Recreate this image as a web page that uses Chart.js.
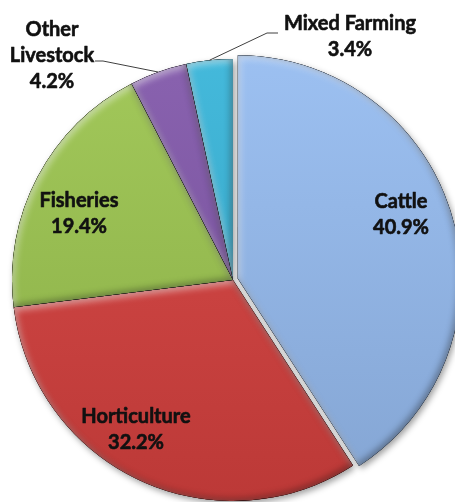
<!DOCTYPE html>
<html><head><meta charset="utf-8">
<script src="https://cdn.jsdelivr.net/npm/chart.js@4/dist/chart.umd.min.js"></script>
<style>html,body{margin:0;padding:0;background:#fff;} #wrap{width:455px;height:502px;position:relative;}</style>
</head><body><div id="wrap"><canvas id="c"></canvas></div>
<script>
const categories = ['Cattle', 'Horticulture', 'Fisheries', 'Other Livestock', 'Mixed Farming'];
const shares = [40.9, 32.2, 19.4, 4.2, 3.4];
const labelLines = [['Cattle'], ['Horticulture'], ['Fisheries'], ['Other', 'Livestock'], ['Mixed Farming']];
const colors = ['#96BCF0', '#D6413E', '#9CC54F', '#8158AA', '#38B5D9'];
const explode = [20, 0, 0, 0, 0];
// label layout, relative to pie centre
const labelPos = [[168, -65], [-97, 150], [-154, -66], [-181, -224], [117, -243]];
const leaders = [null, null, null, [[-138, -219], [-130, -219]], [[45, -247], [34, -247]]];

function shade(hex, f) {
  const n = parseInt(hex.slice(1), 16);
  const r = n >> 16, g = (n >> 8) & 255, b = n & 255;
  const adj = c => f >= 0 ? Math.round(c + (255 - c) * f) : Math.round(c * (1 + f));
  return `rgb(${adj(r)},${adj(g)},${adj(b)})`;
}
function arcGeom(arc) {
  const p = arc.getProps(['x', 'y', 'startAngle', 'endAngle', 'outerRadius', 'circumference']);
  const off = (arc.options.offset || 0) / 4;
  const half = (p.startAngle + p.endAngle) / 2;
  const fix = 1 - Math.sin(Math.min(Math.PI, p.circumference || 0));
  return {x: p.x + Math.cos(half) * off, y: p.y + Math.sin(half) * off, r: p.outerRadius + off * fix,
          s: p.startAngle, e: p.endAngle, half, cx: p.x, cy: p.y, R: p.outerRadius};
}
function pathArc(ctx, g) {
  ctx.moveTo(g.x, g.y);
  ctx.arc(g.x, g.y, g.r, g.s, g.e);
  ctx.closePath();
}

const bevel = {
  id: 'bevel',
  beforeDatasetsDraw(chart) {
    const ctx = chart.ctx, meta = chart.getDatasetMeta(0);
    ctx.save();
    ctx.shadowColor = 'rgba(0,0,0,0.38)';
    ctx.shadowBlur = 6; ctx.shadowOffsetX = 2; ctx.shadowOffsetY = 3;
    meta.data.forEach((arc, i) => {
      const g = arcGeom(arc);
      ctx.beginPath(); pathArc(ctx, g);
      ctx.fillStyle = colors[i]; ctx.fill();
    });
    ctx.restore();
  },
  afterDatasetsDraw(chart) {
    const ctx = chart.ctx, meta = chart.getDatasetMeta(0);
    meta.data.forEach((arc) => {
      const g = arcGeom(arc);
      const inner = (col, ox, oy, blur) => {
        ctx.save();
        ctx.beginPath(); pathArc(ctx, g); ctx.clip();
        ctx.beginPath();
        ctx.rect(-2000, -2000, 5000, 5000);
        pathArc(ctx, g);
        ctx.shadowColor = col; ctx.shadowBlur = blur;
        ctx.shadowOffsetX = ox; ctx.shadowOffsetY = oy;
        ctx.fillStyle = '#000';
        ctx.fill('evenodd');
        ctx.restore();
      };
      inner('rgba(255,255,255,0.55)', 2, 3, 7);
      inner('rgba(0,0,0,0.38)', -2, -2, 7);
    });
    // labels
    ctx.save();
    ctx.font = 'bold 20px Lato, "Open Sans", sans-serif';
    ctx.fillStyle = '#111';
    ctx.strokeStyle = '#111';
    ctx.lineWidth = 0.6;
    ctx.lineJoin = 'round';
    ctx.textAlign = 'center';
    ctx.textBaseline = 'middle';
    meta.data.forEach((arc, i) => {
      const g = arcGeom(arc);
      const lx = g.cx + labelPos[i][0], ly = g.cy + labelPos[i][1];
      const lines = labelLines[i].concat([shares[i].toFixed(1) + '%']);
      lines.forEach((t, k) => {
        const y = ly + (k - (lines.length - 1) / 2) * 26;
        ctx.fillText(t, lx, y);
        ctx.strokeText(t, lx, y);
      });
      if (leaders[i]) {
        ctx.beginPath();
        ctx.strokeStyle = '#404040'; ctx.lineWidth = 1;
        ctx.moveTo(g.cx + leaders[i][0][0], g.cy + leaders[i][0][1]);
        ctx.lineTo(g.cx + leaders[i][1][0], g.cy + leaders[i][1][1]);
        ctx.lineTo(g.cx + Math.cos(g.half) * g.R, g.cy + Math.sin(g.half) * g.R);
        ctx.stroke();
        ctx.strokeStyle = '#111'; ctx.lineWidth = 0.6;
      }
    });
    ctx.restore();
  }
};

new Chart(document.getElementById('c'), {
  type: 'pie',
  data: {
    labels: categories,
    datasets: [{
      data: shares,
      backgroundColor: (c) => {
        const base = colors[c.dataIndex];
        const a = c.chart.chartArea;
        if (!a) return base;
        const gr = c.chart.ctx.createLinearGradient(0, a.top, 0, a.bottom);
        gr.addColorStop(0, shade(base, 0.06));
        gr.addColorStop(1, shade(base, -0.12));
        return gr;
      },
      borderWidth: 0,
      offset: explode
    }]
  },
  options: {
    responsive: true,
    maintainAspectRatio: false,
    animation: false,
    events: [],
    radius: 221,
    layout: {padding: {left: 11, right: 0, top: 58, bottom: 0}},
    plugins: {legend: {display: false}, tooltip: {enabled: false}}
  },
  plugins: [bevel]
});
</script>
</body></html>
